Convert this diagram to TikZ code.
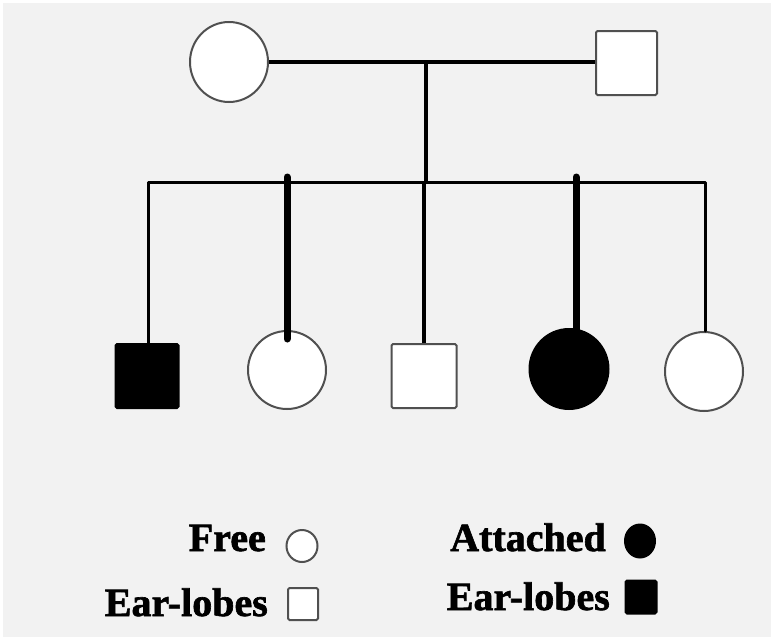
\documentclass[tikz,border=0pt]{standalone}
\usepackage{fontspec}
\setmainfont{Liberation Serif}
\newfontfamily\keyfont[FakeBold=1.6]{Liberation Serif Bold}
\usetikzlibrary{shapes.geometric}
\definecolor{paper}{HTML}{F2F2F2}
\definecolor{rim}{HTML}{505050}
\tikzset{
  open/.style={draw=rim, line width=2pt, fill=white},
  shut/.style={draw=black, line width=2pt, fill=black},
  female/.style={ellipse, inner sep=0pt},
  male/.style={rectangle, rounded corners=1.5pt, inner sep=0pt},
  thinline/.style={line width=3pt, line join=round, line cap=round},
  thickline/.style={line width=7pt, line cap=round},
  coupleline/.style={line width=4.5pt},
  key/.style={font=\fontsize{40}{40}\keyfont, inner sep=0pt}
}
\begin{document}
\begin{tikzpicture}[x=1pt,y=-1pt]
  \useasboundingbox (0,0) rectangle (771,637);
  \fill[white] (0,0) rectangle (771,637);
  \fill[paper] (3,3) rectangle (771,637);

  % parents
  \node[female, open, minimum width=78pt, minimum height=80pt] (mother) at (229,62) {};
  \node[male, open, minimum width=61pt, minimum height=64pt] (father) at (626.5,63) {};

  % children
  \node[male, shut, minimum width=63pt, minimum height=64pt] (c1) at (147,376) {};
  \node[female, open, minimum width=78pt, minimum height=78pt] (c2) at (287,370) {};
  \node[male, open, minimum width=65pt, minimum height=64pt] (c3) at (424,376) {};
  \node[female, shut, minimum width=79pt, minimum height=80pt] (c4) at (569,369) {};
  \node[female, open, minimum width=78pt, minimum height=79pt] (c5) at (704,371.5) {};

  % marriage and descent
  \coordinate (mid) at (426,62);
  \coordinate (sibL) at (148,182);
  \coordinate (sibR) at (705,182);
  \coordinate (topB) at (287,177);
  \coordinate (endB) at (287,339);
  \coordinate (topD) at (576,177);
  \coordinate (endD) at (576,332);
  \draw[coupleline] (mother.east) -- (mother.east -| father.west);
  \draw[line width=3.5pt] (mid) -- (mid |- sibL);
  \draw[thinline] (c1.north -| sibL) -- (sibL) -- (sibR) -- (c5.north -| sibR);
  \draw[line width=3.5pt] (c3.north) -- (c3.north |- sibL);
  \draw[thickline] (topB) -- (endB);
  \draw[thickline] (topD) -- (endD);

  % key
  \node[key, anchor=base east] (free) at (266,551) {Free};
  \node[key, anchor=base east] (ear1) at (268,616) {Ear-lobes};
  \node[key, anchor=base east] (att) at (606,551) {Attached};
  \node[key, anchor=base east] (ear2) at (610,610) {Ear-lobes};
  \node[female, open, minimum width=31pt, minimum height=32pt] (kf) at (302,546) {};
  \node[male, open, minimum width=30pt, minimum height=32pt] (km) at (303,604) {};
  \node[female, shut, minimum width=30pt, minimum height=33pt] (ka) at (640,541) {};
  \node[male, shut, minimum width=31pt, minimum height=33pt] (kb) at (641,597) {};
\end{tikzpicture}
\end{document}
